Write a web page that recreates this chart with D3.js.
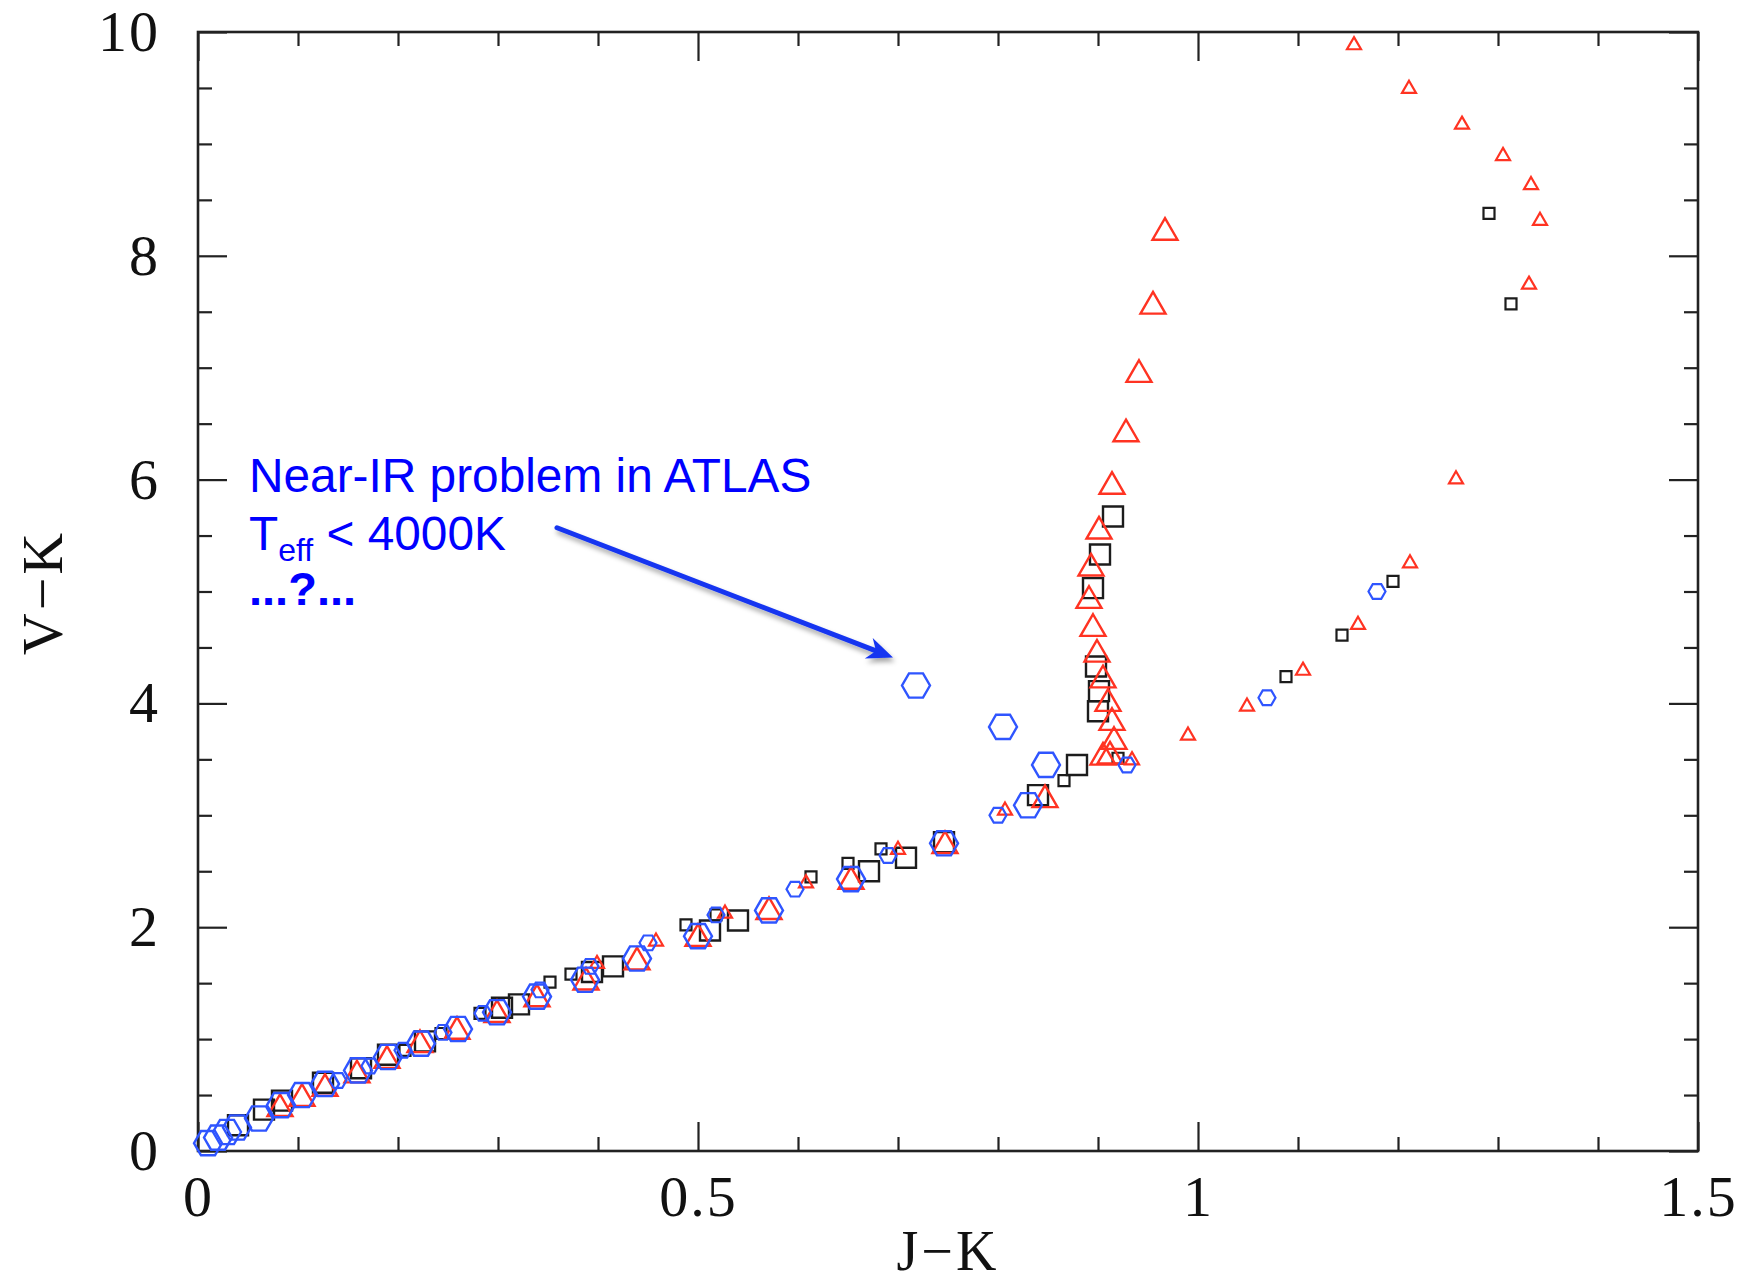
<!DOCTYPE html>
<html>
<head>
<meta charset="utf-8">
<script src="https://cdn.jsdelivr.net/npm/d3@7"></script>
<style>
  html, body { margin: 0; padding: 0; background: #fff; }
  svg { display: block; }
</style>
</head>
<body>
<svg id="chart" width="1747" height="1286"></svg>
<script>
// ---------------- DATA ----------------
const xTickValues = [0, 0.5, 1, 1.5];
const xTickLabels = ["0", "0.5", "1", "1.5"];
const yTickValues = [0, 2, 4, 6, 8, 10];
const yTickLabels = ["0", "2", "4", "6", "8", "10"];
const xMinorTicks = [0.1, 0.2, 0.3, 0.4, 0.6, 0.7, 0.8, 0.9, 1.1, 1.2, 1.3, 1.4];
const yMinorTicks = [0.5, 1, 1.5, 2.5, 3, 3.5, 4.5, 5, 5.5, 6.5, 7, 7.5, 8.5, 9, 9.5];

const xLabel = "J\u2212K";
const yLabel = "V\u2212K";

// black squares, large
const squaresLarge = [
  [0.040,0.23],[0.066,0.37],[0.084,0.45],[0.125,0.61],[0.163,0.74],[0.190,0.86],
  [0.227,0.98],[0.304,1.28],[0.321,1.31],[0.394,1.60],[0.415,1.65],[0.512,1.97],
  [0.540,2.06],[0.671,2.50],[0.708,2.62],[0.746,2.76],[0.840,3.18],[0.879,3.45],
  [0.900,3.93],[0.901,4.11],[0.898,4.33],[0.895,5.03],[0.902,5.33],[0.915,5.67]
];
// black squares, small
const squaresSmall = [
  [0.207,0.90],[0.243,1.05],[0.282,1.23],[0.352,1.51],[0.373,1.58],[0.488,2.02],
  [0.518,2.11],[0.613,2.45],[0.650,2.57],[0.683,2.70],[0.866,3.31],[0.920,3.51],
  [1.088,4.24],[1.144,4.61],[1.195,5.09],[1.313,7.57],[1.291,8.38]
];
// red triangles, large
const trianglesLarge = [
  [0.082,0.41],[0.104,0.50],[0.127,0.59],[0.159,0.71],[0.189,0.84],[0.222,0.98],
  [0.259,1.10],[0.299,1.25],[0.339,1.39],[0.388,1.54],[0.439,1.72],[0.500,1.93],
  [0.571,2.17],[0.653,2.44],[0.747,2.76],[0.847,3.17],[0.905,3.55],[0.912,3.56],
  [0.916,3.69],[0.914,3.86],[0.910,4.03],[0.905,4.24],[0.899,4.47],[0.895,4.70],
  [0.891,4.95],[0.893,5.24],[0.901,5.57],[0.914,5.97],[0.928,6.44],[0.941,6.97],
  [0.955,7.58],[0.967,8.24]
];
// red triangles, small
const trianglesSmall = [
  [0.399,1.69],[0.458,1.89],[0.527,2.14],[0.608,2.41],[0.700,2.71],[0.807,3.06],
  [0.934,3.51],[0.990,3.73],[1.049,3.99],[1.105,4.31],[1.160,4.72],[1.212,5.27],
  [1.258,6.02],[1.331,7.76],[1.342,8.33],[1.333,8.65],[1.305,8.91],[1.264,9.19],
  [1.211,9.51],[1.156,9.90]
];
// blue hexagons, large
const hexagonsLarge = [
  [0.010,0.07],[0.020,0.12],[0.029,0.17],[0.039,0.21],[0.061,0.29],[0.083,0.41],
  [0.104,0.50],[0.127,0.60],[0.160,0.72],[0.190,0.84],[0.223,0.96],[0.260,1.09],
  [0.299,1.24],[0.339,1.38],[0.387,1.53],[0.439,1.72],[0.500,1.92],[0.571,2.15],
  [0.653,2.43],[0.746,2.75],[0.830,3.09],[0.848,3.45],[0.805,3.79],[0.718,4.16]
];
// blue hexagons, small
const hexagonsSmall = [
  [0.140,0.63],[0.172,0.76],[0.205,0.90],[0.245,1.06],[0.285,1.23],[0.342,1.44],
  [0.392,1.65],[0.450,1.86],[0.518,2.11],[0.597,2.34],[0.690,2.64],[0.800,3.00],
  [0.929,3.45],[1.069,4.05],[1.179,5.00]
];

const noteLines = ["Near-IR problem in ATLAS", "T", "eff", " < 4000K", "...?..."];

// ---------------- LAYOUT ----------------
const svg = d3.select("#chart");
const L = 198, R = 1698, T = 32, B = 1151;
const x = d3.scaleLinear().domain([0, 1.5]).range([L, R]);
const y = d3.scaleLinear().domain([0, 10]).range([B, T]);

const axisColor = "#222";
const tickFont = "'Liberation Serif', 'Times New Roman', serif";

const defs = svg.append("defs");
const sh = defs.append("filter").attr("id", "shadow")
  .attr("x", "-20%").attr("y", "-20%").attr("width", "140%").attr("height", "160%");
sh.append("feDropShadow").attr("dx", 2).attr("dy", 4).attr("stdDeviation", 2.5)
  .attr("flood-color", "#000").attr("flood-opacity", 0.35);

// ---------------- AXES ----------------
const gAxes = svg.append("g");

gAxes.append("g").attr("transform", `translate(0,${B})`)
  .call(d3.axisBottom(x).tickValues(xTickValues)
    .tickFormat((d, i) => xTickLabels[i]).tickSize(-29).tickPadding(24))
  .call(g => g.select(".domain").remove());
gAxes.append("g").attr("transform", `translate(0,${B})`)
  .call(d3.axisBottom(x).tickValues(xMinorTicks).tickFormat("").tickSize(-14))
  .call(g => g.select(".domain").remove());
gAxes.append("g").attr("transform", `translate(0,${T})`)
  .call(d3.axisTop(x).tickValues(xTickValues).tickFormat("").tickSize(-29))
  .call(g => g.select(".domain").remove());
gAxes.append("g").attr("transform", `translate(0,${T})`)
  .call(d3.axisTop(x).tickValues(xMinorTicks).tickFormat("").tickSize(-14))
  .call(g => g.select(".domain").remove());
gAxes.append("g").attr("transform", `translate(${L},0)`)
  .call(d3.axisLeft(y).tickValues(yTickValues)
    .tickFormat((d, i) => yTickLabels[i]).tickSize(-29).tickPadding(38))
  .call(g => g.select(".domain").remove());
gAxes.append("g").attr("transform", `translate(${L},0)`)
  .call(d3.axisLeft(y).tickValues(yMinorTicks).tickFormat("").tickSize(-14))
  .call(g => g.select(".domain").remove());
gAxes.append("g").attr("transform", `translate(${R},0)`)
  .call(d3.axisRight(y).tickValues(yTickValues).tickFormat("").tickSize(-29))
  .call(g => g.select(".domain").remove());
gAxes.append("g").attr("transform", `translate(${R},0)`)
  .call(d3.axisRight(y).tickValues(yMinorTicks).tickFormat("").tickSize(-14))
  .call(g => g.select(".domain").remove());

gAxes.selectAll(".tick line").attr("stroke", axisColor).attr("stroke-width", 2.2);
gAxes.selectAll(".tick text")
  .attr("fill", "#111")
  .style("font-family", tickFont)
  .style("font-size", "58px")
  .style("letter-spacing", "2px");

gAxes.append("rect")
  .attr("x", L).attr("y", T).attr("width", R - L).attr("height", B - T)
  .attr("fill", "none").attr("stroke", axisColor).attr("stroke-width", 2.6);

// axis titles
svg.append("text")
  .attr("x", (L + R) / 2).attr("y", 1270)
  .attr("text-anchor", "middle")
  .style("font-family", tickFont).style("font-size", "56px")
  .style("letter-spacing", "3px")
  .attr("fill", "#111")
  .text(xLabel);

svg.append("text")
  .attr("transform", `translate(62,${(T + B) / 2 + 1}) rotate(-90)`)
  .attr("text-anchor", "middle")
  .style("font-family", tickFont).style("font-size", "58px")
  .style("letter-spacing", "3px")
  .attr("fill", "#111")
  .text(yLabel);

// ---------------- MARKERS ----------------
function squarePath(s) { const h = s / 2; return `M${-h},${-h}h${s}v${s}h${-s}Z`; }
function trianglePath(w) {
  const h = w * Math.sqrt(3) / 2;
  return `M0,${-h / 2}L${w / 2},${h / 2}L${-w / 2},${h / 2}Z`;
}
function hexagonPath(r) {
  const pts = d3.range(6).map(i => {
    const a = i * Math.PI / 3;
    return [r * Math.cos(a), r * Math.sin(a)];
  });
  return "M" + pts.map(p => p.join(",")).join("L") + "Z";
}

const plot = svg.append("g");
function drawSeries(data, path, color, sw) {
  plot.append("g").selectAll("path").data(data).join("path")
    .attr("d", path)
    .attr("transform", d => `translate(${x(d[0])},${y(d[1])})`)
    .attr("fill", "none")
    .attr("stroke", color)
    .attr("stroke-width", sw)
    .attr("stroke-linejoin", "miter");
}
const BLACK = "#1c1c1c", RED = "#ff3322", BLUE = "#2f55ff";
drawSeries(squaresLarge, squarePath(20), BLACK, 2.4);
drawSeries(squaresSmall, squarePath(11), BLACK, 2.2);
drawSeries(trianglesLarge, trianglePath(25), RED, 2.4);
drawSeries(trianglesSmall, trianglePath(14), RED, 2.2);
drawSeries(hexagonsLarge, hexagonPath(14), BLUE, 2.4);
drawSeries(hexagonsSmall, hexagonPath(8.5), BLUE, 2.2);

// ---------------- ANNOTATION ----------------
const noteFont = "'Liberation Sans', Arial, sans-serif";
const noteColor = "#0000ff";
const noteX = x(0.051);
const note = svg.append("g").style("font-family", noteFont).attr("fill", noteColor);
note.append("text").attr("x", noteX).attr("y", y(5.89))
  .style("font-size", "47.8px").text(noteLines[0]);
const t2 = note.append("text").attr("x", noteX).attr("y", y(5.375)).style("font-size", "47.8px");
t2.append("tspan").text(noteLines[1]);
t2.append("tspan").attr("dy", 11).style("font-size", "32px").text(noteLines[2]);
t2.append("tspan").attr("dy", -11).text(noteLines[3]);
note.append("text").attr("x", noteX).attr("y", y(4.88))
  .style("font-size", "47px").style("font-weight", "bold").text(noteLines[4]);

// arrow (tail and head positioned in data coordinates)
const arrowTail = [0.359, 5.57], arrowHead = [0.695, 4.41];
const ax0 = x(arrowTail[0]), ay0 = y(arrowTail[1]);
const ax1 = x(arrowHead[0]), ay1 = y(arrowHead[1]);
const ang = Math.atan2(ay1 - ay0, ax1 - ax0);
const headLen = 26, headW = 11;
const ux = Math.cos(ang), uy = Math.sin(ang);
const bx = ax1 - ux * headLen, by = ay1 - uy * headLen;
const nx = -uy, ny = ux;
const arrow = svg.append("g").attr("filter", "url(#shadow)");
arrow.append("line")
  .attr("x1", ax0).attr("y1", ay0)
  .attr("x2", ax1 - ux * 12).attr("y2", ay1 - uy * 12)
  .attr("stroke", "#1536f0").attr("stroke-width", 5).attr("stroke-linecap", "round");
arrow.append("path")
  .attr("d", `M${ax1},${ay1}L${bx + nx * headW},${by + ny * headW}L${ax1 - ux * headLen * 0.7},${ay1 - uy * headLen * 0.7}L${bx - nx * headW},${by - ny * headW}Z`)
  .attr("fill", "#1536f0");
</script>
</body>
</html>
